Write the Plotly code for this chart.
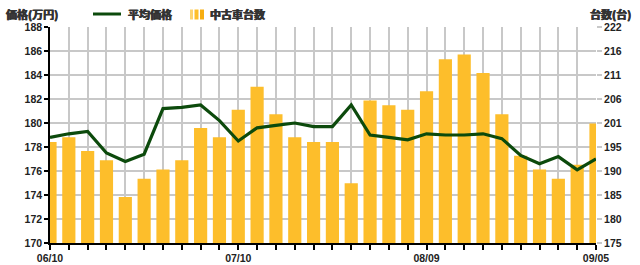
import plotly.graph_objects as go

dates = ["06/10", "06/13", "06/16", "06/19", "06/22", "06/25", "06/28", "07/01", "07/04", "07/07",
         "07/10", "07/13", "07/16", "07/19", "07/22", "07/25", "07/28", "07/31", "08/03", "08/06",
         "08/09", "08/12", "08/15", "08/18", "08/21", "08/24", "08/27", "08/30", "09/02", "09/05"]
shown_labels = ["06/10", "07/10", "08/09", "09/05"]

avg_price = [178.8, 179.1, 179.3, 177.5, 176.8, 177.4, 181.2, 181.3, 181.5, 180.2,
             178.5, 179.6, 179.8, 180.0, 179.7, 179.7, 181.5, 179.0, 178.8, 178.6,
             179.1, 179.0, 179.0, 179.1, 178.7, 177.3, 176.6, 177.2, 176.1, 177.0]
used_count = [197, 198, 195, 193, 185, 189, 191, 193, 200, 198,
              204, 209, 203, 198, 197, 197, 188, 206, 205, 204,
              208, 215, 216, 212, 203, 194, 191, 189, 192, 201]

price_ticks = [170, 172, 174, 176, 178, 180, 182, 184, 186, 188]
count_min, count_max = 175, 222
count_tickvals = [count_min + i * (count_max - count_min) / 9 for i in range(10)]
count_ticktext = [str(int(v)) for v in count_tickvals]

FONT = "Liberation Sans, Arial, sans-serif"
JP = "Noto Sans CJK JP"
BAR = "#FDBE2B"
LINE = "#0C4A0C"
GRID = "#C8C8C8"
TICKFONT = dict(family=FONT, size=10.5, color="#222", weight="bold")

L, R, T, B = 50, 44, 27, 22
W, H = 640, 265

fig = go.Figure()
fig.add_trace(go.Bar(x=dates, y=used_count, name="中古車台数", marker_color=BAR,
                     marker_line_width=0, width=0.7, yaxis="y"))
fig.add_trace(go.Scatter(x=dates, y=avg_price, name="平均価格", mode="lines",
                         line=dict(color=LINE, width=3.2), yaxis="y2"))

fig.update_layout(
    width=W, height=H,
    margin=dict(l=L, r=R, t=T, b=B, autoexpand=False),
    paper_bgcolor="white", plot_bgcolor="white",
    showlegend=False,
    xaxis=dict(type="category", range=[0, len(dates) - 1],
               tickvals=dates,
               ticktext=[d if d in shown_labels else "" for d in dates],
               showgrid=True, gridcolor=GRID, gridwidth=1.5,
               showline=True, linecolor="black", linewidth=1.5,
               ticks="outside", ticklen=5, tickcolor="black", tickwidth=1.5,
               tickfont=TICKFONT, automargin=False,
               zeroline=False),
    yaxis=dict(side="right", range=[count_min, count_max],
               tickvals=count_tickvals, ticktext=count_ticktext,
               showgrid=True, gridcolor=GRID, gridwidth=1.5,
               ticks="outside", ticklen=5, tickcolor=GRID, tickwidth=1.5,
               tickfont=TICKFONT, automargin=False,
               showline=False, zeroline=False),
    yaxis2=dict(side="left", overlaying="y", range=[170, 188],
                tickvals=price_ticks,
                showgrid=False, showline=True, linecolor="black", linewidth=1.5,
                ticks="outside", ticklen=4, tickcolor="black", tickwidth=1.5,
                tickfont=TICKFONT, automargin=False,
                zeroline=False),
)

pw, ph = W - L - R, H - T - B
def px_x(v):
    return (v - L) / pw
def px_y(v):
    return (H - B - v) / ph

HEAD = dict(family=JP, size=11, color="#333", weight="bold",
            shadow="0.45px 0 0 #333, -0.45px 0 0 #333")
fig.add_annotation(x=px_x(4), y=px_y(14), xref="paper", yref="paper",
                   text="価格(万円)", showarrow=False, xanchor="left", yanchor="middle", font=HEAD)
fig.add_annotation(x=px_x(633), y=px_y(14), xref="paper", yref="paper",
                   text="台数(台)", showarrow=False, xanchor="right", yanchor="middle", font=HEAD)
fig.add_annotation(x=px_x(126), y=px_y(14), xref="paper", yref="paper",
                   text="平均価格", showarrow=False, xanchor="left", yanchor="middle", font=HEAD)
fig.add_annotation(x=px_x(208), y=px_y(14), xref="paper", yref="paper",
                   text="中古車台数", showarrow=False, xanchor="left", yanchor="middle", font=HEAD)

fig.add_shape(type="line", xref="paper", yref="paper", x0=px_x(93), x1=px_x(121),
              y0=px_y(14), y1=px_y(14), line=dict(color=LINE, width=3))
for x0, x1, c in [(190, 193, "#FDD470"), (194.5, 198.5, BAR), (200, 204, "#F7AE10")]:
    fig.add_shape(type="rect", xref="paper", yref="paper", x0=px_x(x0), x1=px_x(x1),
                  y0=px_y(19.5), y1=px_y(9.5), fillcolor=c, line_width=0)

fig.write_html("out.html")
